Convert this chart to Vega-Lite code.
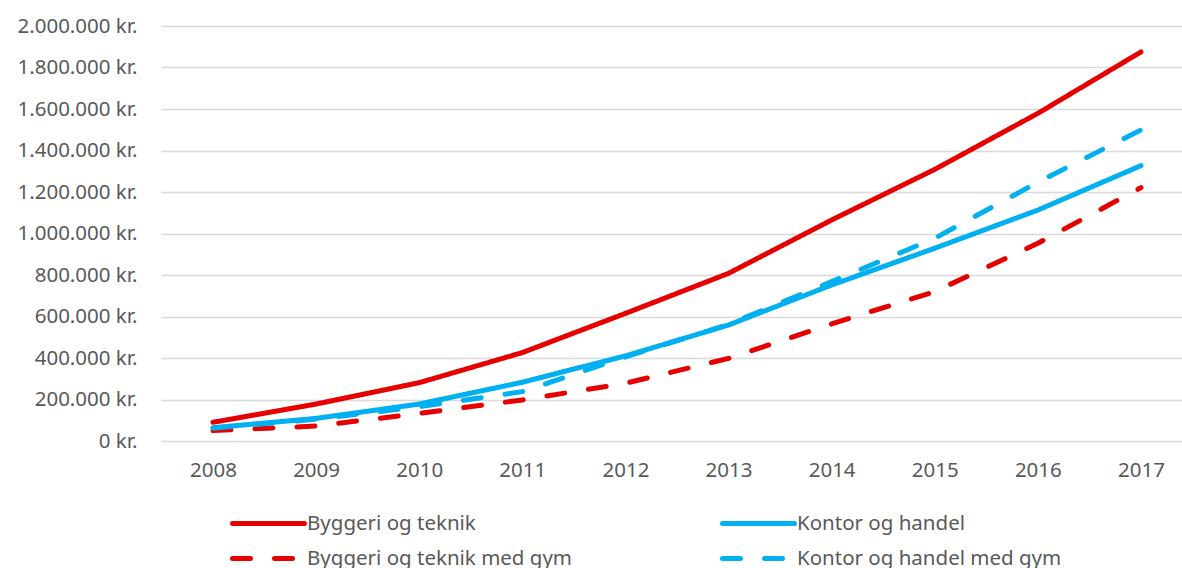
{
  "$schema": "https://vega.github.io/schema/vega-lite/v6.json",
  "autosize": "none",
  "padding": {"left": 161, "top": 26, "right": 0, "bottom": 127},
  "width": 1021,
  "height": 415,
  "background": "white",
  "config": {
    "view": {"stroke": null},
    "font": "Noto Sans",
    "axis": {"labelFont": "Noto Sans", "labelColor": "#595959", "labelFontSize": 20.5},
    "legend": {"labelFont": "Noto Sans", "labelColor": "#595959", "labelFontSize": 20.5}
  },
  "data": {
    "values": [
      {"series": "Byggeri og teknik", "year": 2008, "value": 90000},
      {"series": "Byggeri og teknik", "year": 2009, "value": 178000},
      {"series": "Byggeri og teknik", "year": 2010, "value": 281000},
      {"series": "Byggeri og teknik", "year": 2011, "value": 426000},
      {"series": "Byggeri og teknik", "year": 2012, "value": 615000},
      {"series": "Byggeri og teknik", "year": 2013, "value": 808000},
      {"series": "Byggeri og teknik", "year": 2014, "value": 1065000},
      {"series": "Byggeri og teknik", "year": 2015, "value": 1309000},
      {"series": "Byggeri og teknik", "year": 2016, "value": 1579000},
      {"series": "Byggeri og teknik", "year": 2017, "value": 1875000},
      {"series": "Kontor og handel", "year": 2008, "value": 64000},
      {"series": "Kontor og handel", "year": 2009, "value": 109000},
      {"series": "Kontor og handel", "year": 2010, "value": 178000},
      {"series": "Kontor og handel", "year": 2011, "value": 283000},
      {"series": "Kontor og handel", "year": 2012, "value": 410000},
      {"series": "Kontor og handel", "year": 2013, "value": 559000},
      {"series": "Kontor og handel", "year": 2014, "value": 752000},
      {"series": "Kontor og handel", "year": 2015, "value": 929000},
      {"series": "Kontor og handel", "year": 2016, "value": 1113000},
      {"series": "Kontor og handel", "year": 2017, "value": 1327000},
      {"series": "Byggeri og teknik med gym", "year": 2008, "value": 50000},
      {"series": "Byggeri og teknik med gym", "year": 2009, "value": 72000},
      {"series": "Byggeri og teknik med gym", "year": 2010, "value": 133000},
      {"series": "Byggeri og teknik med gym", "year": 2011, "value": 198000},
      {"series": "Byggeri og teknik med gym", "year": 2012, "value": 278000},
      {"series": "Byggeri og teknik med gym", "year": 2013, "value": 398000},
      {"series": "Byggeri og teknik med gym", "year": 2014, "value": 564000},
      {"series": "Byggeri og teknik med gym", "year": 2015, "value": 720000},
      {"series": "Byggeri og teknik med gym", "year": 2016, "value": 953000},
      {"series": "Byggeri og teknik med gym", "year": 2017, "value": 1221000},
      {"series": "Kontor og handel med gym", "year": 2008, "value": 62000},
      {"series": "Kontor og handel med gym", "year": 2009, "value": 105000},
      {"series": "Kontor og handel med gym", "year": 2010, "value": 165000},
      {"series": "Kontor og handel med gym", "year": 2011, "value": 238000},
      {"series": "Kontor og handel med gym", "year": 2012, "value": 405000},
      {"series": "Kontor og handel med gym", "year": 2013, "value": 562000},
      {"series": "Kontor og handel med gym", "year": 2014, "value": 768000},
      {"series": "Kontor og handel med gym", "year": 2015, "value": 977000},
      {"series": "Kontor og handel med gym", "year": 2016, "value": 1247000},
      {"series": "Kontor og handel med gym", "year": 2017, "value": 1499000}
    ]
  },
  "mark": {"type": "line", "strokeWidth": 5, "strokeCap": "round", "strokeJoin": "round"},
  "encoding": {
    "x": {
      "field": "year", "type": "quantitative",
      "scale": {"domain": [2007.496, 2017.398], "nice": false, "zero": false},
      "axis": {"title": null, "values": [2008,2009,2010,2011,2012,2013,2014,2015,2016,2017], "format": "d",
        "labelAngle": 0, "ticks": false, "domain": false, "grid": false, "labelPadding": 19, "labelOverlap": false}
    },
    "y": {
      "field": "value", "type": "quantitative",
      "scale": {"domain": [0, 2000000], "nice": false},
      "axis": {
        "title": null, "values": [0,200000,400000,600000,800000,1000000,1200000,1400000,1600000,1800000,2000000],
        "ticks": false, "domain": false, "grid": true, "gridColor": "#D9D9D9", "gridWidth": 1.5,
        "labelPadding": 24, "labelOverlap": false,
        "labelExpr": "replace(format(datum.value, ','), /,/g, '.') + ' kr.'"
      }
    },
    "color": {
      "field": "series", "type": "nominal",
      "scale": {
        "domain": ["Byggeri og teknik", "Kontor og handel", "Byggeri og teknik med gym", "Kontor og handel med gym"],
        "range": ["#E60000", "#00B0F0", "#E60000", "#00B0F0"]
      },
      "legend": {
        "title": null, "orient": "none", "legendX": 69, "legendY": 483, "direction": "horizontal",
        "columns": 2, "symbolType": "M-1,0H5", "symbolSize": 576, "symbolStrokeWidth": 5,
        "labelOffset": 48, "labelLimit": 0, "rowPadding": 10, "columnPadding": 139,
        "encode": {"symbols": {"update": {"strokeCap": {"value": "round"}}}}
      }
    },
    "strokeDash": {
      "field": "series", "type": "nominal",
      "scale": {
        "domain": ["Byggeri og teknik", "Kontor og handel", "Byggeri og teknik med gym", "Kontor og handel med gym"],
        "range": [[1, 0], [1, 0], [18, 24], [18, 24]]
      },
      "legend": null
    }
  }
}
